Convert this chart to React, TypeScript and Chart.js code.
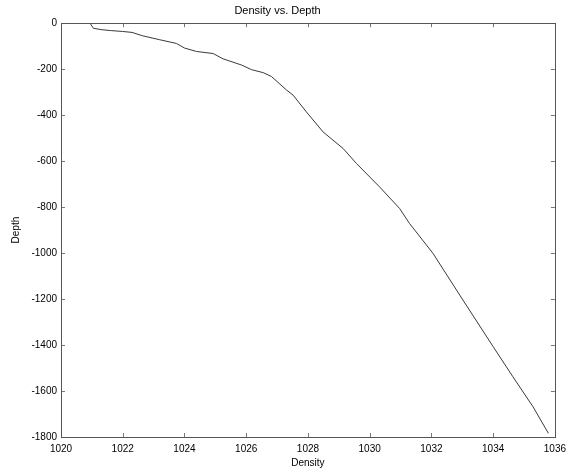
import React, { useEffect, useRef } from "react";
import { Chart, registerables } from "chart.js";

Chart.register(...registerables);

// Density (x) vs Depth (y)
const density: number[] = [
  1020.95, 1021.05, 1021.3, 1021.6, 1022.0, 1022.3, 1022.65, 1023.2, 1023.74,
  1024.0, 1024.39, 1024.93, 1025.25, 1025.85, 1026.17, 1026.55, 1026.82,
  1027.3, 1027.52, 1027.95, 1028.49, 1029.14, 1029.57, 1030.32, 1030.97,
  1031.29, 1032.05, 1033.02, 1034.0, 1034.64, 1035.29, 1035.79,
];
const depth: number[] = [
  -2, -22, -28, -32, -36, -40, -55, -72, -88, -108, -123, -132, -155, -182,
  -202, -215, -232, -290, -313, -386, -473, -545, -610, -712, -806, -871,
  -1001, -1204, -1407, -1538, -1668, -1784,
];

const xTicks: number[] = [1020, 1022, 1024, 1026, 1028, 1030, 1032, 1034, 1036];
const yTicks: number[] = [0, -200, -400, -600, -800, -1000, -1200, -1400, -1600, -1800];

const FONT = "'Liberation Sans', Arial, Helvetica, sans-serif";

const boxTicksPlugin = {
  id: "boxTicks",
  afterDraw(chart: any) {
    const { ctx, chartArea } = chart;
    const { left, right, top, bottom } = chartArea;
    const xs = chart.scales.x;
    const ys = chart.scales.y;
    ctx.save();
    ctx.strokeStyle = "#777";
    ctx.lineWidth = 1;
    const L = 4;
    ctx.beginPath();
    xTicks.forEach((v) => {
      const px = Math.round(xs.getPixelForValue(v)) + 0.5;
      ctx.moveTo(px, bottom);
      ctx.lineTo(px, bottom - L);
      ctx.moveTo(px, top);
      ctx.lineTo(px, top + L);
    });
    yTicks.forEach((v) => {
      const py = Math.round(ys.getPixelForValue(v)) + 0.5;
      ctx.moveTo(left, py);
      ctx.lineTo(left + L, py);
      ctx.moveTo(right, py);
      ctx.lineTo(right - L, py);
    });
    ctx.stroke();
    ctx.strokeStyle = "#555";
    ctx.strokeRect(
      Math.round(left) + 0.5,
      Math.round(top) + 0.5,
      Math.round(right - left),
      Math.round(bottom - top)
    );
    ctx.restore();
  },
};

export default function App() {
  const ref = useRef<HTMLCanvasElement | null>(null);
  useEffect(() => {
    document.body.style.margin = "0";
    const canvas = ref.current;
    if (!canvas) return;
    const points = density.map((d, i) => ({ x: d, y: depth[i] }));
    const chart = new Chart(canvas, {
      type: "scatter",
      data: {
        datasets: [
          {
            data: points,
            showLine: true,
            borderColor: "#3a3a3a",
            borderWidth: 1,
            pointRadius: 0,
            fill: false,
            tension: 0,
          },
        ],
      },
      options: {
        animation: false,
        responsive: false,
        layout: { padding: { left: 0, right: 17, top: 0, bottom: 0 } },
        plugins: {
          legend: { display: false },
          tooltip: { enabled: false },
          title: {
            display: true,
            text: "Density vs. Depth",
            color: "#000",
            font: { family: FONT, size: 11, weight: "normal" },
            padding: { top: 4, bottom: 6 },
          },
        },
        scales: {
          x: {
            type: "linear",
            min: 1020,
            max: 1036,
            afterBuildTicks: (scale: any) => {
              scale.ticks = xTicks.map((v) => ({ value: v }));
            },
            afterFit: (scale: any) => {
              scale.height = 35;
            },
            grid: { display: false, drawTicks: false },
            border: { display: false },
            ticks: {
              color: "#000",
              padding: 6,
              maxRotation: 0,
              font: { family: FONT, size: 10 },
              callback: (v: any) => String(v),
            },
            title: {
              display: true,
              text: "Density",
              color: "#000",
              font: { family: FONT, size: 10 },
              padding: { top: 0, bottom: 3 },
            },
          },
          y: {
            type: "linear",
            min: -1800,
            max: 0,
            afterBuildTicks: (scale: any) => {
              scale.ticks = yTicks.map((v) => ({ value: v }));
            },
            afterFit: (scale: any) => {
              scale.width = 61;
            },
            grid: { display: false, drawTicks: false },
            border: { display: false },
            ticks: {
              color: "#000",
              padding: 4,
              font: { family: FONT, size: 10 },
              callback: (v: any) => String(v),
            },
            title: {
              display: true,
              text: "Depth",
              color: "#000",
              font: { family: FONT, size: 10 },
              padding: { top: 10, bottom: 0 },
            },
          },
        },
      },
      plugins: [boxTicksPlugin],
    });
    return () => chart.destroy();
  }, []);
  return <canvas ref={ref} width={572} height={472} style={{ display: "block" }} />;
}
